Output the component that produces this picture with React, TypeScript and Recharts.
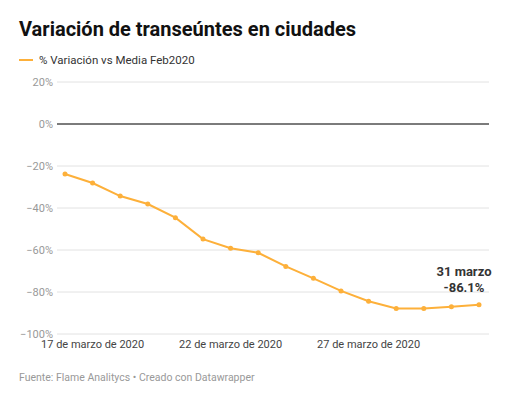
import { LineChart, Line, XAxis, YAxis, CartesianGrid, ReferenceLine, LabelList } from "recharts";

const dates = [
  "16 de marzo de 2020",
  "17 de marzo de 2020",
  "18 de marzo de 2020",
  "19 de marzo de 2020",
  "20 de marzo de 2020",
  "21 de marzo de 2020",
  "22 de marzo de 2020",
  "23 de marzo de 2020",
  "24 de marzo de 2020",
  "25 de marzo de 2020",
  "26 de marzo de 2020",
  "27 de marzo de 2020",
  "28 de marzo de 2020",
  "29 de marzo de 2020",
  "30 de marzo de 2020",
  "31 de marzo de 2020",
];

const variacion = [
  -23.8, -28.1, -34.3, -38.1, -44.6, -54.8, -59.2, -61.3, -67.8, -73.5, -79.5, -84.4, -87.8, -87.9, -87.0, -86.1,
];

const xTicks = ["17 de marzo de 2020", "22 de marzo de 2020", "27 de marzo de 2020"];
const yTicks = [-100, -80, -60, -40, -20, 0, 20];

const data = dates.map((d, i) => ({ date: d, value: variacion[i] }));

const ORANGE = "#fdb03a";

// annotation on the last point only
const LastLabel = (props: any) => {
  const { x, y, index } = props;
  if (index !== data.length - 1) return null;
  return (
    <g>
      <text x={x - 15} y={y - 29} textAnchor="middle" fontSize={13} fontWeight={700} fill="#333">
        31 marzo
      </text>
      <text x={x - 15} y={y - 13} textAnchor="middle" fontSize={13} fontWeight={700} fill="#333">
        -86.1%
      </text>
    </g>
  );
};

export default function App() {
  return (
    <div
      style={{
        position: "absolute",
        left: 0,
        top: 0,
        width: 510,
        height: 400,
        background: "#fff",
        fontFamily: "Roboto, sans-serif",
      }}
    >
      <div
        style={{
          position: "absolute",
          left: 19,
          top: 17,
          fontSize: 20,
          fontWeight: 700,
          color: "#111",
          whiteSpace: "nowrap",
        }}
      >
        Variación de transeúntes en ciudades
      </div>
      <div
        style={{
          position: "absolute",
          left: 19,
          top: 53,
          fontSize: 11.5,
          color: "#333",
          display: "flex",
          alignItems: "center",
          whiteSpace: "nowrap",
        }}
      >
        <span style={{ display: "inline-block", width: 14, height: 2, background: ORANGE, marginRight: 6 }} />
        % Variación vs Media Feb2020
      </div>

      <div style={{ position: "absolute", left: 0, top: 70 }}>
        <LineChart width={510} height={290} data={data} margin={{ top: 12, right: 21, bottom: 0, left: 0 }}>
          <CartesianGrid vertical={false} stroke="#e2e2e2" />
          <XAxis
            dataKey="date"
            ticks={xTicks}
            interval={0}
            height={26}
            axisLine={false}
            tickLine={false}
            tickSize={0}
            tickMargin={6}
            padding={{ left: 8, right: 10 }}
            tick={{ fontSize: 11, fill: "#444" }}
          />
          <YAxis
            width={57}
            domain={[-100, 20]}
            ticks={yTicks}
            axisLine={false}
            tickLine={false}
            tickSize={0}
            tickMargin={4}
            tickFormatter={(v: number) => (v < 0 ? "\u2212" + Math.abs(v) : v) + "%"}
            tick={{ fontSize: 11, fill: "#999" }}
          />
          <ReferenceLine y={0} stroke="#555" strokeWidth={1.5} />
          <Line
            type="linear"
            dataKey="value"
            stroke={ORANGE}
            strokeWidth={2}
            dot={{ r: 2.5, fill: ORANGE, stroke: ORANGE, strokeWidth: 0 }}
            activeDot={false}
            isAnimationActive={false}
          >
            <LabelList dataKey="value" content={LastLabel} />
          </Line>
        </LineChart>
      </div>

      <div
        style={{
          position: "absolute",
          left: 19,
          top: 371,
          fontSize: 10.5,
          color: "#999",
          whiteSpace: "nowrap",
        }}
      >
        Fuente: Flame Analitycs • Creado con Datawrapper
      </div>
    </div>
  );
}
